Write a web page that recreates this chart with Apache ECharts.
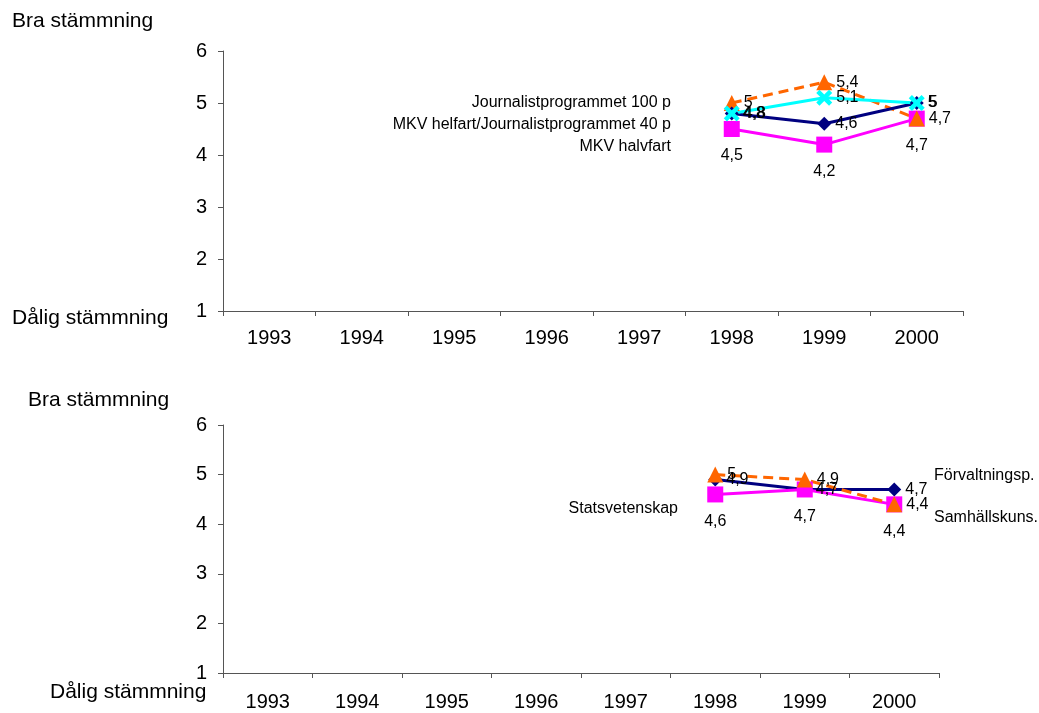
<!DOCTYPE html>
<html>
<head>
<meta charset="utf-8">
<script src="https://cdn.jsdelivr.net/npm/echarts@6/dist/echarts.min.js"></script>
<style>
html,body{margin:0;padding:0;background:#fff;}
#c{width:1039px;height:713px;}
</style>
</head>
<body>
<div id="c"></div>
<script>
// ---- data ----
var years = ['1993','1994','1995','1996','1997','1998','1999','2000'];
var yTicks = [1,2,3,4,5,6];
// top chart
var topJournalist100 = [null,null,null,null,null,5.0,5.4,4.7];   // orange dashed, triangles
var topMkvHelfart   = [null,null,null,null,null,4.8,4.6,5.0];     // navy, diamonds
var topMkvHalvfart  = [null,null,null,null,null,4.5,4.2,4.7];     // magenta, squares
var topOther        = [null,null,null,null,null,4.8,5.1,5.0];     // cyan, crosses
// bottom chart
var botForvaltning  = [null,null,null,null,null,4.9,4.7,4.7];     // navy
var botStatsvet     = [null,null,null,null,null,4.6,4.7,4.4];     // magenta
var botSamhall      = [null,null,null,null,null,5.0,4.9,4.4];     // orange dashed

var FONT = 'Liberation Sans, Arial, sans-serif';
var fmt = function(p){ return String(p.value).replace('.', ','); };
var crossPath = 'path://M2,0 L5,3 L8,0 L10,2 L7,5 L10,8 L8,10 L5,7 L2,10 L0,8 L3,5 L0,2 Z';

function xAxis(idx){
  return {
    type:'category', gridIndex:idx, data:years, boundaryGap:true,
    axisLine:{lineStyle:{color:'#555',width:1}},
    axisTick:{show:true,length:5,interval:0,lineStyle:{color:'#555'}},
    axisLabel:{color:'#000',fontSize:20,fontFamily:FONT,margin:idx===0?17:19,interval:0},
    splitLine:{show:false}
  };
}
function yAxis(idx){
  return {
    type:'value', gridIndex:idx, min:1, max:6, interval:1,
    axisLine:{show:true,lineStyle:{color:'#555',width:1}},
    axisTick:{show:true,length:5,lineStyle:{color:'#555'}},
    axisLabel:{color:'#000',fontSize:20,fontFamily:FONT,margin:16,
      formatter:function(v){ return yTicks.indexOf(v)>=0 ? String(v) : ''; }},
    splitLine:{show:false}
  };
}
function lbl(pos){
  var o = {show:true,position:pos,formatter:fmt,color:'#000',fontSize:16,fontFamily:FONT};
  if(pos==='bottom') o.distance = 11; else o.distance = 4;
  return o;
}
function series(name, data, xi, color, symbol, size, dashed, labelPos){
  return {
    name:name, type:'line', xAxisIndex:xi, yAxisIndex:xi, data:data,
    symbol:symbol, symbolSize:size, showAllSymbol:true, connectNulls:false,
    lineStyle:{color:color,width:3,type:dashed?[10,6]:'solid'},
    itemStyle:{color:color},
    label:lbl(labelPos),
    emphasis:{disabled:true}, animation:false, z:2
  };
}

var chart = echarts.init(document.getElementById('c'), null, {renderer:'canvas'});
chart.setOption({
  backgroundColor:'#fff',
  animation:false,
  grid:[
    {left:223,right:76,top:51,height:260,show:false},
    {left:223,right:100,top:425,height:248,show:false}
  ],
  xAxis:[xAxis(0),xAxis(1)],
  yAxis:[yAxis(0),yAxis(1)],
  series:[
    series('MKV halvfart', topMkvHalvfart, 0, '#FF00FF', 'rect', 16, false, 'bottom'),
    series('Journalistprogrammet 100 p', topJournalist100, 0, '#FF6600', 'triangle', 16, true, 'right'),
    series('MKV helfart/Journalistprogrammet 40 p', topMkvHelfart, 0, '#000080', 'diamond', 14, false, 'right'),
    series('Övrigt', topOther, 0, '#00FFFF', crossPath, 16, false, 'right'),
    series('Förvaltningsp.', botForvaltning, 1, '#000080', 'diamond', 14, false, 'right'),
    series('Statsvetenskap', botStatsvet, 1, '#FF00FF', 'rect', 16, false, 'bottom'),
    series('Samhällskuns.', botSamhall, 1, '#FF6600', 'triangle', 16, true, 'right')
  ],
  graphic:[
    {type:'text',left:12,top:11,style:{text:'Bra stämmning',fontSize:21,fontFamily:FONT,fill:'#000'}},
    {type:'text',left:12,top:308,style:{text:'Dålig stämmning',fontSize:21,fontFamily:FONT,fill:'#000'}},
    {type:'text',left:28,top:390,style:{text:'Bra stämmning',fontSize:21,fontFamily:FONT,fill:'#000'}},
    {type:'text',left:50,top:682,style:{text:'Dålig stämmning',fontSize:21,fontFamily:FONT,fill:'#000'}},
    {type:'text',x:671,y:103,style:{text:'Journalistprogrammet 100 p',fontSize:16,fontFamily:FONT,fill:'#000',align:'right',verticalAlign:'middle'}},
    {type:'text',x:671,y:125,style:{text:'MKV helfart/Journalistprogrammet 40 p',fontSize:16,fontFamily:FONT,fill:'#000',align:'right',verticalAlign:'middle'}},
    {type:'text',x:671,y:147,style:{text:'MKV halvfart',fontSize:16,fontFamily:FONT,fill:'#000',align:'right',verticalAlign:'middle'}},
    {type:'text',x:678,y:509,style:{text:'Statsvetenskap',fontSize:16,fontFamily:FONT,fill:'#000',align:'right',verticalAlign:'middle'}},
    {type:'text',x:934,y:476,style:{text:'Förvaltningsp.',fontSize:16,fontFamily:FONT,fill:'#000',align:'left',verticalAlign:'middle'}},
    {type:'text',x:934,y:518,style:{text:'Samhällskuns.',fontSize:16,fontFamily:FONT,fill:'#000',align:'left',verticalAlign:'middle'}}
  ]
});
</script>
</body>
</html>
